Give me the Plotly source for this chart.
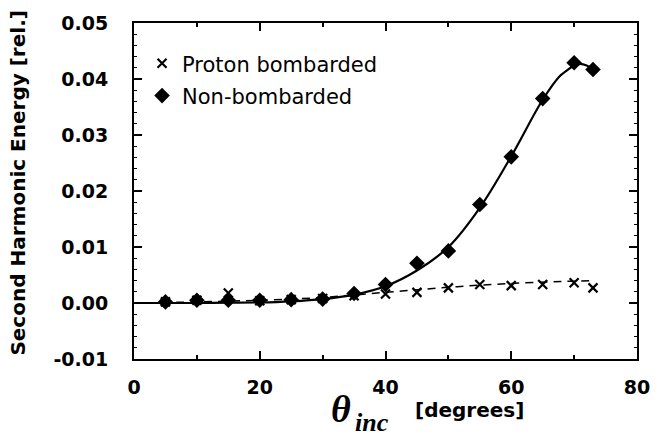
import plotly.graph_objects as go

# ---- data ----
angle = [5, 10, 15, 20, 25, 30, 35, 40, 45, 50, 55, 60, 65, 70, 73]
proton = [0.0002, 0.0005, 0.0018, 0.0004, 0.0006, 0.0008, 0.0013, 0.0016,
          0.0019, 0.0027, 0.0033, 0.0031, 0.0033, 0.0036, 0.0027]
nonbomb = [0.0002, 0.0005, 0.0005, 0.0005, 0.0006, 0.0007, 0.0017, 0.0033,
           0.0071, 0.0093, 0.0176, 0.0261, 0.0365, 0.0429, 0.0417]

fit_non_x = [0, 5, 10, 15, 20, 25, 30, 35, 40, 45, 50, 55, 60, 65, 67.7, 68.7, 70, 71, 72, 73]
fit_non_y = [0, 0, 0, 0.00005, 0.0001, 0.0003, 0.0007, 0.0015, 0.003, 0.0058,
             0.0100, 0.0170, 0.0262, 0.0363, 0.0405, 0.0414, 0.0424, 0.0427, 0.0424, 0.0417]
fit_pro_x = [0, 10, 20, 30, 40, 50, 60, 70, 73]
fit_pro_y = [0, 0.0002, 0.0005, 0.0010, 0.0019, 0.0028, 0.0035, 0.0039, 0.0040]

x_ticks = [0, 20, 40, 60, 80]
y_ticks = [-0.01, 0.0, 0.01, 0.02, 0.03, 0.04, 0.05]

fig = go.Figure()

fig.add_trace(go.Scatter(x=fit_pro_x, y=fit_pro_y, mode="lines", showlegend=False,
                         line=dict(color="black", width=1.5, dash="8px,6px", shape="spline")))
fig.add_trace(go.Scatter(x=fit_non_x, y=fit_non_y, mode="lines", showlegend=False,
                         line=dict(color="black", width=2.2, shape="spline")))
fig.add_trace(go.Scatter(x=angle, y=proton, mode="markers", name="Proton bombarded",
                         legendrank=1, legendgroup="a",
                         marker=dict(symbol="x-thin", size=9, color="black",
                                     line=dict(color="black", width=2.2))))
fig.add_trace(go.Scatter(x=angle, y=nonbomb, mode="markers", name="Non-bombarded",
                         legendrank=2, legendgroup="b",
                         marker=dict(symbol="diamond", size=12, color="black")))

axis_common = dict(showline=True, linecolor="black", linewidth=2, mirror="allticks",
                   ticks="inside", tickcolor="black", tickwidth=1.5, ticklen=8,
                   showgrid=False, zeroline=False,
                   tickfont=dict(family="DejaVu Sans", size=19, color="black", weight="bold"))

fig.update_xaxes(range=[0, 80], tickvals=x_ticks, ticktext=[str(v) for v in x_ticks],
                 minor=dict(dtick=10, ticks="inside", ticklen=4, tickcolor="black", tickwidth=1.5),
                 ticklabelstandoff=10, **axis_common)
fig.update_yaxes(range=[-0.01, 0.05], tickvals=y_ticks, ticktext=[f"{v:.2f}" for v in y_ticks],
                 minor=dict(dtick=0.002, ticks="inside", ticklen=3, tickcolor="black", tickwidth=1),
                 ticklabelstandoff=20, **axis_common)

fig.update_layout(
    width=662, height=441,
    margin=dict(l=134, r=17, t=16, b=82),
    paper_bgcolor="white", plot_bgcolor="white",
    showlegend=True,
    legend=dict(x=0.016, y=0.94, xanchor="left", yanchor="top",
                bgcolor="rgba(0,0,0,0)", tracegroupgap=2,
                font=dict(family="DejaVu Sans", size=21, color="black")),
    annotations=[
        dict(text="Second Harmonic Energy [rel.]", textangle=-90, xref="paper", yref="paper",
             x=0, y=0.522, xshift=-116, showarrow=False, xanchor="center", yanchor="middle",
             font=dict(family="DejaVu Sans", size=20, color="black", weight="bold")),
        dict(text="<b><i>θ</i></b>", xref="paper", yref="paper", x=0.411, y=-0.1487,
             showarrow=False, xanchor="center", yanchor="middle",
             font=dict(family="Liberation Serif", size=38, color="black")),
        dict(text="<b><i>inc</i></b>", xref="paper", yref="paper", x=0.474, y=-0.2375,
             showarrow=False, xanchor="center", yanchor="bottom",
             font=dict(family="Liberation Serif", size=26, color="black")),
        dict(text="[degrees]", xref="paper", yref="paper", x=0.667, y=-0.151,
             showarrow=False, xanchor="center", yanchor="middle",
             font=dict(family="DejaVu Sans", size=20, color="black", weight="bold")),
    ],
)

fig.write_html("out.html")
